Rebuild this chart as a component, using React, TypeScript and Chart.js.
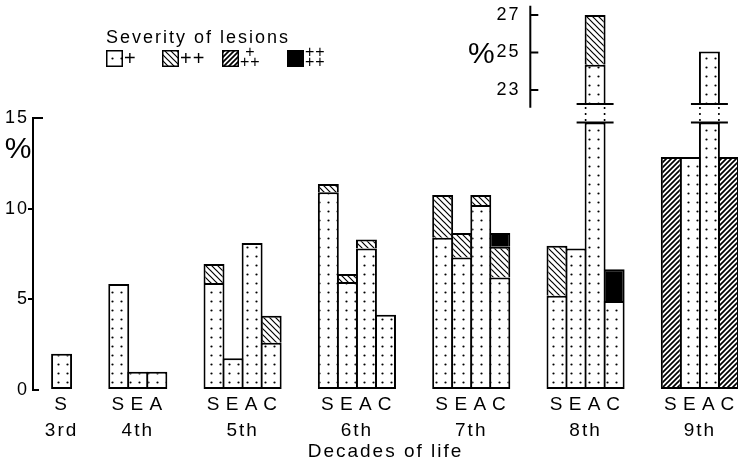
import React, { useEffect, useRef } from 'react';
import { Chart, registerables } from 'chart.js';

Chart.register(...registerables);

// ---------------- data ----------------
const decades = ['3rd', '4th', '5th', '6th', '7th', '8th', '9th'];
const groupLetters = [
  ['S'],
  ['S', 'E', 'A'],
  ['S', 'E', 'A', 'C'],
  ['S', 'E', 'A', 'C'],
  ['S', 'E', 'A', 'C'],
  ['S', 'E', 'A', 'C'],
  ['S', 'E', 'A', 'C'],
];
const severityLabels = ['+', '++', '+++', '++++'];
// % per decade, per group (S, E, A, C), for each severity grade
const sevPlus1 = [[2.0], [5.85, 1.0, 1.0], [5.9, 1.75, 8.1, 2.6], [10.9, 5.95, 7.8, 4.15], [8.4, 7.3, 10.2, 6.2], [5.2, 7.8, 24.35, 4.9], [0, 12.85, 25.05, 0]];
const sevPlus2 = [[0], [0, 0, 0], [1.05, 0, 0, 1.5], [0.45, 0.45, 0.5, 0], [2.35, 1.35, 0.55, 1.7], [2.75, 0, 2.65, 0], [0, 0, 0, 0]];
const sevPlus3 = [[0], [0, 0, 0], [0, 0, 0, 0], [0, 0, 0, 0], [0, 0, 0, 0], [0, 0, 0, 0], [12.85, 0, 0, 12.85]];
const sevPlus4 = [[0], [0, 0, 0], [0, 0, 0, 0], [0, 0, 0, 0], [0, 0, 0, 0.75], [0, 0, 0, 1.75], [0, 0, 0, 0]];
const mainTicks = [0, 5, 10, 15];
const insetTicks = [23, 25, 27];
const xTitle = 'Decades of life';
const legendTitle = 'Severity of lesions';

// ---------------- axis-break settings ----------------
const MAIN_SHOWN_MAX = 15;
const BREAK_LOW = 14.75;
const BREAK_HIGH = 22.25;
const INSET_RANGE = [22.05, 27.5];
const INSET_AXIS_AT = 25.6; // position on the category axis
const INSET_LABEL_AT = 25.08;
const MAIN_PCT_AT = 13.25;
const INSET_PCT_AT = 24.87;

const FONT = '"Liberation Sans", Arial, sans-serif';
const SPACING = '2px';
const BW = 2;
const LEGEND_BOX_X = [106, 162, 222, 287];

// ---------------- slot layout ----------------
const slotLabels: string[] = [''];
const slotRefs: ({ g: number; b: number } | null)[] = [null];
const groupCenters: number[] = [];
groupLetters.forEach((letters, g) => {
  if (g > 0) {
    slotLabels.push('', '');
    slotRefs.push(null, null);
  }
  const start = slotLabels.length;
  letters.forEach((l, b) => {
    slotLabels.push(l);
    slotRefs.push({ g, b });
  });
  groupCenters.push((start + slotLabels.length - 1) / 2);
});

const series = [sevPlus1, sevPlus2, sevPlus3, sevPlus4];
const totals = slotRefs.map((r) => (r ? series.reduce((s, a) => s + a[r.g][r.b], 0) : 0));
const brokenSlots = totals.map((t, i) => (t > MAIN_SHOWN_MAX ? i : -1)).filter((i) => i >= 0);

function segments(k: number) {
  return slotRefs.map((r) => {
    if (!r) return null;
    let start = 0;
    for (let j = 0; j < k; j++) start += series[j][r.g][r.b];
    const v = series[k][r.g][r.b];
    if (!v) return null;
    return [start, start + v];
  });
}
function lowerPart(k: number) {
  return segments(k).map((s, i) => {
    if (!s) return null;
    if (totals[i] <= MAIN_SHOWN_MAX) return s;
    if (s[0] >= BREAK_LOW) return null;
    return [s[0], Math.min(s[1], BREAK_LOW)];
  });
}
function upperPart(k: number) {
  return segments(k).map((s, i) => {
    if (!s || totals[i] <= MAIN_SHOWN_MAX || s[1] <= BREAK_HIGH) return null;
    return [Math.max(s[0], BREAK_HIGH), s[1]];
  });
}

// ---------------- patterns ----------------
function makePatterns(): any[] {
  const tile = (size: number, draw: (g: CanvasRenderingContext2D, s: number) => void) => {
    const c = document.createElement('canvas');
    c.width = size;
    c.height = size;
    const g = c.getContext('2d')!;
    g.fillStyle = '#fff';
    g.fillRect(0, 0, size, size);
    draw(g, size);
    return g.createPattern(c, 'repeat');
  };
  const dots = tile(9, (g) => {
    g.fillStyle = '#000';
    g.beginPath();
    g.arc(4.5, 4.5, 1.1, 0, Math.PI * 2);
    g.fill();
  });
  const back = tile(6, (g, s) => {
    g.strokeStyle = '#000';
    g.lineWidth = 1.2;
    g.beginPath();
    for (const o of [-s, 0, s]) {
      g.moveTo(o - 1, -1);
      g.lineTo(o + s + 1, s + 1);
    }
    g.stroke();
  });
  const fwd = tile(5, (g, s) => {
    g.strokeStyle = '#000';
    g.lineWidth = 1.7;
    g.beginPath();
    for (const o of [-s, 0, s]) {
      g.moveTo(o - 1, s + 1);
      g.lineTo(o + s + 1, -1);
    }
    g.stroke();
  });
  return [dots, back, fwd, '#000'];
}

export default function App() {
  const ref = useRef<HTMLCanvasElement>(null);

  useEffect(() => {
    const canvas = ref.current!;
    const patterns = makePatterns();

    const common = {
      xAxisID: 'x',
      borderColor: '#000',
      borderWidth: (c: any) => {
        const raw = c.raw;
        const bottom = raw && raw[0] === 0 ? BW : 0;
        return { top: BW, left: BW, right: BW, bottom };
      },
      borderSkipped: false,
      grouped: false,
      categoryPercentage: 1,
      barPercentage: 1.1,
    };
    const datasets: any[] = [];
    severityLabels.forEach((lab, k) => {
      datasets.push({ ...common, label: lab, data: lowerPart(k), yAxisID: 'y', backgroundColor: patterns[k] });
    });
    severityLabels.forEach((lab, k) => {
      datasets.push({ ...common, label: lab + ' (upper)', data: upperPart(k), yAxisID: 'yTop', backgroundColor: patterns[k] });
    });

    const overlay = {
      id: 'overlay',
      beforeDraw(chart: any) {
        (chart.ctx as any).letterSpacing = SPACING;
      },
      afterDatasetsDraw(chart: any) {
        const ctx = chart.ctx as CanvasRenderingContext2D;
        const y = chart.scales.y;
        const yt = chart.scales.yTop;
        const x = chart.scales.x;
        ctx.save();
        ctx.strokeStyle = '#000';
        ctx.fillStyle = '#000';
        ctx.lineWidth = 2;
        // main axis line (0..15) with cap & foot
        const ax = y.right;
        const y0 = y.getPixelForValue(0);
        const y15 = y.getPixelForValue(MAIN_SHOWN_MAX);
        ctx.beginPath();
        ctx.moveTo(ax + 10, y15);
        ctx.lineTo(ax, y15);
        ctx.lineTo(ax, y0);
        ctx.lineTo(ax + 6, y0);
        ctx.stroke();
        // inset axis
        const ix = x.getPixelForValue(INSET_AXIS_AT);
        ctx.beginPath();
        ctx.moveTo(ix, yt.getPixelForValue(INSET_RANGE[1]));
        ctx.lineTo(ix, yt.getPixelForValue(INSET_RANGE[0]));
        insetTicks.forEach((v) => {
          const py = yt.getPixelForValue(v);
          ctx.moveTo(ix, py);
          ctx.lineTo(ix + 8, py);
        });
        ctx.stroke();
        // % labels
        (ctx as any).letterSpacing = '0px';
        ctx.font = `30px ${FONT}`;
        ctx.textAlign = 'center';
        ctx.textBaseline = 'middle';
        ctx.fillText('%', ax - 15, y.getPixelForValue(MAIN_PCT_AT));
        ctx.fillText('%', ix - 49, yt.getPixelForValue(INSET_PCT_AT));
        // axis breaks on tall bars
        const meta = chart.getDatasetMeta(0);
        brokenSlots.forEach((i) => {
          const el = meta.data[i];
          const p = el.getProps(['x', 'width'], true);
          const l = p.x - p.width / 2;
          const r = p.x + p.width / 2;
          const yl = y.getPixelForValue(BREAK_LOW);
          const yh = yt.getPixelForValue(BREAK_HIGH);
          ctx.lineWidth = 2;
          ctx.setLineDash([]);
          ctx.beginPath();
          ctx.moveTo(l - 8, yl);
          ctx.lineTo(r + 8, yl);
          ctx.moveTo(l - 8, yh);
          ctx.lineTo(r + 8, yh);
          ctx.stroke();
          ctx.lineWidth = 1.6;
          ctx.setLineDash([2, 4]);
          ctx.beginPath();
          ctx.moveTo(l + 1, yh + 3);
          ctx.lineTo(l + 1, yl);
          ctx.moveTo(r - 1, yh + 3);
          ctx.lineTo(r - 1, yl);
          ctx.stroke();
          ctx.setLineDash([]);
        });
        ctx.restore();
      },
      afterDraw(chart: any) {
        // severity legend
        const ctx = chart.ctx as CanvasRenderingContext2D;
        ctx.save();
        (ctx as any).letterSpacing = SPACING;
        ctx.fillStyle = '#000';
        ctx.textAlign = 'left';
        ctx.textBaseline = 'middle';
        ctx.font = `18px ${FONT}`;
        ctx.fillText(legendTitle, LEGEND_BOX_X[0], 38);
        const by = 50;
        const bs = 17;
        severityLabels.forEach((lab, k) => {
          const cx = LEGEND_BOX_X[k];
          ctx.fillStyle = patterns[k];
          ctx.fillRect(cx, by, bs, bs);
          ctx.strokeStyle = '#000';
          ctx.lineWidth = 1.5;
          ctx.strokeRect(cx + 0.75, by + 0.75, bs - 1.5, bs - 1.5);
          ctx.fillStyle = '#000';
          const tx = cx + bs + 1;
          (ctx as any).letterSpacing = '1px';
          if (lab.length <= 2) {
            ctx.font = `20px ${FONT}`;
            ctx.fillText(lab, tx, by + bs / 2 + 1);
          } else {
            ctx.font = `16px ${FONT}`;
            const bottom = '++';
            const top = lab.slice(2);
            const bw = ctx.measureText(bottom).width;
            const tw = ctx.measureText(top).width;
            ctx.fillText(top, tx + (bw - tw) / 2, by + 3);
            ctx.fillText(bottom, tx, by + 13);
          }
        });
        ctx.restore();
      },
    };

    const chart = new Chart(canvas, {
      type: 'bar',
      data: { labels: slotLabels, datasets },
      plugins: [overlay],
      options: {
        responsive: false,
        animation: false,
        layout: { padding: 0 },
        plugins: { legend: { display: false }, tooltip: { enabled: false } },
        scales: {
          x: {
            type: 'category',
            position: 'bottom',
            weight: 0,
            offset: true,
            grid: { display: false, drawTicks: false },
            border: { display: false },
            ticks: {
              autoSkip: false,
              maxRotation: 0,
              minRotation: 0,
              padding: 4,
              color: '#000',
              font: { family: FONT, size: 19, lineHeight: '22px' },
            },
            afterFit: (s: any) => {
              s.height = 26;
              s.paddingLeft = 0;
              s.paddingRight = 0;
            },
          },
          x2: {
            type: 'linear',
            axis: 'x',
            position: 'bottom',
            weight: 1,
            offset: false,
            min: -0.5,
            max: slotLabels.length - 0.5,
            grid: { display: false, drawTicks: false, offset: false },
            border: { display: false },
            afterBuildTicks: (s: any) => {
              s.ticks = groupCenters.map((v) => ({ value: v }));
            },
            ticks: {
              autoSkip: false,
              maxRotation: 0,
              minRotation: 0,
              padding: 4,
              color: '#000',
              font: { family: FONT, size: 19, lineHeight: '22px' },
              callback: (_v: any, i: number) => decades[i],
            },
            title: {
              display: true,
              text: xTitle,
              color: '#000',
              padding: 0,
              font: { family: FONT, size: 19, lineHeight: '18px' },
            },
            afterFit: (s: any) => {
              s.height = 45;
              s.paddingLeft = 0;
              s.paddingRight = 0;
            },
          },
          y: {
            type: 'linear',
            position: 'left',
            min: 0,
            max: 21.5,
            afterBuildTicks: (s: any) => {
              s.ticks = mainTicks.map((v) => ({ value: v }));
            },
            grid: {
              drawOnChartArea: false,
              tickLength: 5,
              lineWidth: 2,
              tickColor: (c: any) =>
                c.tick && (c.tick.value === 0 || c.tick.value === MAIN_SHOWN_MAX) ? 'rgba(0,0,0,0)' : '#000',
            },
            border: { display: false },
            ticks: { padding: -1, color: '#000', font: { family: FONT, size: 18 } },
            afterFit: (s: any) => {
              s.width = 33;
              s.paddingTop = 0;
              s.paddingBottom = 0;
            },
          },
          yTop: {
            type: 'linear',
            axis: 'y',
            position: { x: INSET_LABEL_AT },
            min: 7,
            max: 27.8,
            afterBuildTicks: (s: any) => {
              s.ticks = insetTicks.map((v) => ({ value: v }));
            },
            grid: { display: false, drawTicks: false },
            border: { display: false },
            ticks: { padding: 0, color: '#000', font: { family: FONT, size: 18 } },
            afterFit: (s: any) => {
              s.paddingTop = 0;
              s.paddingBottom = 0;
            },
          },
        },
      } as any,
    });
    return () => chart.destroy();
  }, []);

  return (
    <div style={{ position: 'absolute', left: 0, top: 0, width: 738, height: 461, background: '#fff' }}>
      <canvas ref={ref} width={738} height={461} style={{ display: 'block', width: 738, height: 461 }} />
    </div>
  );
}
